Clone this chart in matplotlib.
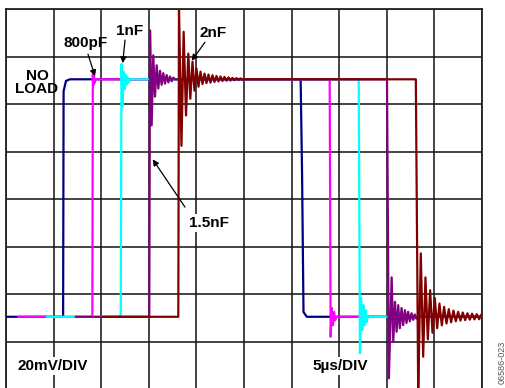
import matplotlib

matplotlib.use("Agg")
import matplotlib.pyplot as plt
import numpy as np

# time in microseconds, amplitude in mV (low level = 0 mV)
NOLOAD_T = [-1.7, 6.0, 6.05, 6.3, 6.7, 30.95, 31.1, 31.25, 31.6, 50]
NOLOAD_MV = [0, 0, 95, 99.3, 100, 100, 60, 2, 0, 0]

PF800_T = [1.3, 9.07, 9.12, 9.18, 9.24, 9.30, 9.40,
           34.0, 34.1, 34.22, 34.34, 34.46, 34.58, 34.7, 50]
PF800_MV = [0, 0, 102, 97.5, 101.5, 98.5, 100,
            100, -8.4, 3.7, -3.5, 2, -1.5, 0, 0]

NF1_T = [4.3, 12.05, 12.13, 12.24, 12.34, 12.45, 12.55, 12.66, 12.76, 12.87, 12.97,
         37.05, 37.18, 37.3, 37.42, 37.54, 37.66, 37.78, 37.9, 38.0, 50]
NF1_MV = [0, 0, 106.4, 88.5, 103.3, 95.8, 101.9, 97.7, 101, 98.6, 100,
          100, -15.3, 7.9, -5.6, 4.9, -3.5, 2.8, -2.2, 0, 0]

NF15_T = [7.35, 15.05, 15.13, 15.30, 15.47, 15.65, 15.83, 16.0, 16.18, 16.35,
          16.52, 16.70, 16.87, 17.05, 17.22, 17.40, 17.57, 17.75,
          40.02, 40.22, 40.51, 40.68, 40.86, 41.03, 41.2, 41.37, 41.55, 41.72,
          41.9, 42.07, 42.24, 42.42, 42.6, 42.77, 42.94, 43.1, 43.3, 50]
NF15_MV = [0, 0, 120.6, 80.6, 110.1, 92.7, 105.9, 96.1, 103.6, 97.7,
           102.6, 98.2, 101.8, 98.7, 101.2, 99.2, 100.7, 100,
           100, -25.9, 16.6, -10.5, 6.3, -6.3, 4.9, -4.8, 3.7, -3.5,
           2.8, -2.6, 2.1, -1.9, 1.5, -1.3, 1, -0.8, 0, 0]

NF2_T = [10.2, 18.1, 18.17, 18.43, 18.66, 18.91, 19.15, 19.36, 19.59, 19.80,
         20.01, 20.22, 20.43, 20.64, 20.85, 21.06, 21.27, 21.48, 21.69, 21.90,
         22.11, 22.32, 22.53, 22.74, 22.95, 23.16, 23.37, 23.58, 23.79, 24.0,
         24.21, 24.42, 24.63, 24.84, 25.05,
         43.05, 43.3, 43.57, 43.82, 44.06, 44.31, 44.55, 44.8, 45.04, 45.29,
         45.53, 45.78, 46.02, 46.27, 46.51, 46.76, 47.0, 47.25, 47.49, 47.74,
         47.98, 48.23, 48.47, 48.72, 48.96, 49.21, 49.45, 49.7, 49.94]
NF2_MV = [0, 0, 131, 72, 120, 84.8, 110.8, 91.8, 107.4, 95.2,
          104.5, 96.9, 103.2, 98, 102.4, 98.4, 102, 98.6, 101.7, 98.9,
          101.4, 99.1, 101.2, 99.3, 101, 99.4, 100.8, 99.5, 100.6, 99.6,
          100.5, 99.7, 100.4, 99.8, 100,
          100, -32, 26.7, -16.8, 16.6, -9.5, 11.2, -6.7, 7.9, -4.8,
          5.6, -3.6, 4.2, -2.8, 3.2, -2.3, 2.6, -1.9, 2.1, -1.6,
          1.8, -1.4, 1.5, -1.2, 1.3, -1.1, 1.1, -1, 0.9]

TRACES = [(NOLOAD_T, NOLOAD_MV, "#000080"),
          (PF800_T, PF800_MV, "#ff00ff"),
          (NF1_T, NF1_MV, "#00ffff"),
          (NF15_T, NF15_MV, "#800080"),
          (NF2_T, NF2_MV, "#800000")]

plt.rcParams["font.family"] = ["Liberation Sans", "DejaVu Sans"]

fig = plt.figure(figsize=(5.05, 3.88), dpi=100)
ax = fig.add_axes([6 / 505, -1 / 388, 476 / 505, 380 / 388])

for t, mv, col in TRACES:
    ax.plot(t, mv, color=col, lw=1.6, solid_joinstyle="round", zorder=3)

ax.set_xlim(0, 50)
ax.set_ylim(-30.4, 129.6)
ax.set_xticks(np.arange(0, 50.1, 5))
ax.set_yticks(np.arange(-30.4, 130, 20))
ax.tick_params(length=0, labelbottom=False, labelleft=False)
ax.grid(True, color="#111111", lw=1.1)
ax.set_axisbelow(True)
for s in ax.spines.values():
    s.set_color("#222222")
    s.set_linewidth(1.3)

txt = dict(fontsize=11, fontweight="bold", ha="center", va="center", zorder=5)
arrow = dict(arrowstyle="-|>", color="black", lw=0.9, mutation_scale=9,
             shrinkA=0, shrinkB=0)
white = dict(facecolor="white", edgecolor="none", pad=1.5)

ax.text(3.26, 98.6, "NO\nLOAD", linespacing=0.95, **txt)
ax.text(8.4, 115.4, "800pF", **txt)
ax.annotate("", xy=(9.35, 101.3), xytext=(8.61, 110.6), arrowprops=arrow, zorder=5)
ax.text(13.02, 120.4, "1nF", **txt)
ax.annotate("", xy=(12.26, 106.8), xytext=(12.5, 116.5), arrowprops=arrow, zorder=5)
ax.text(21.74, 119.5, "2nF", **txt)
ax.annotate("", xy=(19.5, 107.8), xytext=(20.9, 115.6), arrowprops=arrow, zorder=5)
ax.text(21.32, 39.6, "1.5nF", bbox=white, **txt)
ax.annotate("", xy=(15.41, 66.3), xytext=(18.8, 46.2), arrowprops=arrow, zorder=5)
ax.text(4.94, -20.6, "20mV/DIV", bbox=white, **txt)
ax.text(35.08, -20.6, "5µs/DIV", bbox=white, **txt)

fig.text(502 / 505, 1 - 362 / 388, "06586-023", rotation=90, fontsize=6.5,
         color="#555555", ha="center", va="center")

fig.savefig("out.png", dpi=100)
